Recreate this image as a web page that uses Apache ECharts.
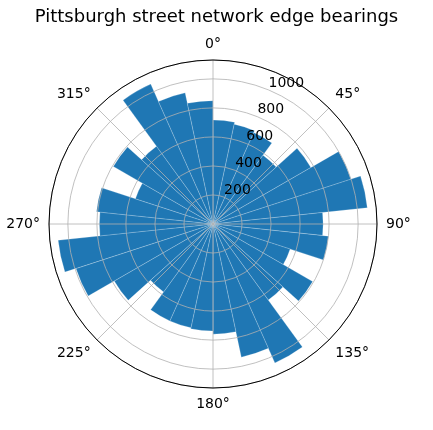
<!DOCTYPE html>
<html>
<head>
<meta charset="utf-8">
<script src="https://cdn.jsdelivr.net/npm/echarts@6/dist/echarts.min.js"></script>
<style>html,body{margin:0;padding:0;background:#fff;}#c{width:433px;height:430px;}</style>
</head>
<body>
<div id="c"></div>
<script>
// 30 bearing bins of 12 degrees each, starting at 0° (compass, clockwise from north)
const binStarts = [0,12,24,36,48,60,72,84,96,108,120,132,144,156,168,180,192,204,216,228,240,252,264,276,288,300,312,324,336,348];
const edgeCounts = [717,703,690,586,779,1000,1069,759,800,559,793,648,1048,938,759,738,731,731,579,786,993,1073,783,807,562,793,662,1055,924,850];
const angleTicks = [0,45,90,135,180,225,270,315];
const radiusTicks = [200,400,600,800,1000];
const radiusMax = 1130;
const titleText = 'Pittsburgh street network edge bearings';

const font = 'DejaVu Sans';
const center = [213, 224];
const radius = 164;
const chart = echarts.init(document.getElementById('c'), null, {renderer:'canvas'});
chart.setOption({
  animation: false,
  title: {text: titleText, left: 'center', top: 3,
    textStyle: {fontFamily: font, fontSize: 18, fontWeight: 'normal', color: '#000'}},
  polar: [
    {center: center, radius: radius},
    {center: center, radius: radius},
    {center: center, radius: radius}
  ],
  angleAxis: [
    {polarIndex: 0, type: 'category', data: binStarts.map(String), startAngle: 90, clockwise: true,
      boundaryGap: true, axisLine: {show: false}, axisTick: {show: false}, axisLabel: {show: false}, splitLine: {show: false}},
    {polarIndex: 1, type: 'value', min: 0, max: 360, interval: 45, startAngle: 90, clockwise: true, z: 5,
      axisLine: {show: true, lineStyle: {color: '#000', width: 1}},
      axisTick: {show: false},
      axisLabel: {show: true, margin: 9, fontFamily: font, fontSize: 14, color: '#000',
        formatter: v => (angleTicks.indexOf(v) >= 0 ? v + '°' : '')},
      splitLine: {show: true, lineStyle: {color: '#b0b0b0', width: 0.8}}},
    {polarIndex: 2, type: 'value', min: 0, max: 360, startAngle: 67.5, clockwise: true,
      axisLine: {show: false}, axisTick: {show: false}, axisLabel: {show: false}, splitLine: {show: false}}
  ],
  radiusAxis: [
    {polarIndex: 0, type: 'value', min: 0, max: radiusMax, axisLine: {show: false}, axisTick: {show: false},
      axisLabel: {show: false}, splitLine: {show: false}},
    {polarIndex: 1, type: 'value', min: 0, max: radiusMax, interval: 200, z: 5,
      axisLine: {show: false}, axisTick: {show: false}, axisLabel: {show: false},
      splitLine: {show: true, lineStyle: {color: '#b0b0b0', width: 0.8}}},
    {polarIndex: 2, type: 'value', min: 0, max: radiusMax, interval: 200, z: 6,
      axisLine: {show: false}, axisTick: {show: false}, splitLine: {show: false},
      axisLabel: {show: true, margin: 0, align: 'left', verticalAlign: 'bottom',
        fontFamily: font, fontSize: 14, color: '#000',
        formatter: v => (radiusTicks.indexOf(v) >= 0 ? String(v) : '')}}
  ],
  series: [{
    type: 'bar', coordinateSystem: 'polar', polarIndex: 0, data: edgeCounts,
    barCategoryGap: '0%', z: 2,
    itemStyle: {color: '#1f77b4', borderColor: 'rgba(255,255,255,0.35)', borderWidth: 0.6}
  }]
});
</script>
</body>
</html>
